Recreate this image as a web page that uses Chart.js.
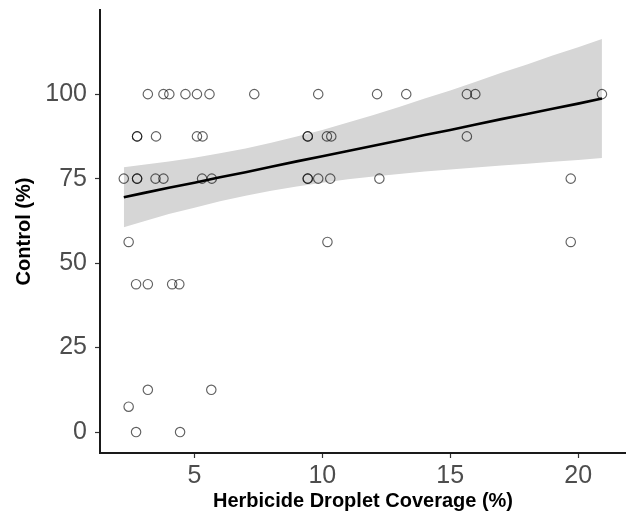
<!DOCTYPE html>
<html>
<head>
<meta charset="utf-8">
<script src="https://cdn.jsdelivr.net/npm/chart.js@4.4.1/dist/chart.umd.min.js"></script>
<style>
    html, body { margin: 0; padding: 0; background: #fff; }
    #wrap { width: 626px; height: 520px; }
</style>
</head>
<body>
<div id="wrap"><canvas id="chart" width="626" height="520"></canvas></div>
<script>
const coverage = [
    3.18, 3.79, 4.02, 4.65, 5.10, 5.59, 7.34, 9.84, 12.14, 13.28, 15.65, 15.98, 20.93,
    2.76, 2.76, 3.50, 5.10, 5.32, 9.43, 9.43, 10.18, 10.35, 15.65,
    2.24, 2.76, 2.76, 3.48, 3.79, 5.30, 5.68, 9.43, 9.43, 9.84, 10.31, 12.23, 19.71,
    2.43, 10.20, 19.71,
    2.72, 3.18, 4.13, 4.41,
    3.18, 5.66,
    2.43,
    2.72, 4.44
];
const control = [
    100, 100, 100, 100, 100, 100, 100, 100, 100, 100, 100, 100, 100,
    87.5, 87.5, 87.5, 87.5, 87.5, 87.5, 87.5, 87.5, 87.5, 87.5,
    75, 75, 75, 75, 75, 75, 75, 75, 75, 75, 75, 75, 75,
    56.25, 56.25, 56.25,
    43.75, 43.75, 43.75, 43.75,
    12.5, 12.5,
    7.5,
    0, 0
];

// Fitted line and its grey band
const fitX = [2.24, 3, 4, 5, 6, 7, 8, 9, 10, 11, 12, 13, 14, 15, 16, 17, 18, 19, 20, 20.93];
const fitY = [69.5, 70.7, 72.3, 73.8, 75.4, 76.9, 78.5, 80.1, 81.6, 83.2, 84.7, 86.3, 87.9, 89.4, 91.0, 92.6, 94.1, 95.7, 97.2, 98.7];
const bandUpper = [78.4, 79.1, 80.1, 81.2, 82.5, 83.9, 85.6, 87.5, 89.4, 91.6, 93.8, 96.2, 98.7, 101.1, 103.7, 106.3, 108.8, 111.4, 113.9, 116.3];
const bandLower = [60.6, 62.3, 64.5, 66.4, 68.3, 69.9, 71.4, 72.7, 73.8, 74.8, 75.6, 76.4, 77.1, 77.7, 78.3, 78.9, 79.4, 80.0, 80.5, 81.1];

const xTicks = [5, 10, 15, 20];
const yTicks = [0, 25, 50, 75, 100];

const toPoints = (xs, ys) => xs.map((x, i) => ({ x: x, y: ys[i] }));

const tickFont = { family: '"Liberation Sans", Arial, sans-serif', size: 25 };
const titleFont = { family: '"Liberation Sans", Arial, sans-serif', size: 20, weight: 'bold' };

new Chart(document.getElementById('chart'), {
    type: 'scatter',
    data: {
        datasets: [
            {
                label: 'points',
                data: toPoints(coverage, control),
                showLine: false,
                pointStyle: 'circle',
                pointRadius: 4.7,
                pointBorderWidth: 1.15,
                pointBorderColor: 'rgba(0, 0, 0, 0.62)',
                pointBackgroundColor: 'rgba(0, 0, 0, 0)',
                order: 0
            },
            {
                label: 'fit',
                data: toPoints(fitX, fitY),
                showLine: true,
                borderColor: '#000',
                borderWidth: 2.6,
                pointRadius: 0,
                fill: false,
                order: 1
            },
            {
                label: 'lower',
                data: toPoints(fitX, bandLower),
                showLine: true,
                borderWidth: 0,
                borderColor: 'rgba(0,0,0,0)',
                pointRadius: 0,
                fill: false,
                order: 3
            },
            {
                label: 'upper',
                data: toPoints(fitX, bandUpper),
                showLine: true,
                borderWidth: 0,
                borderColor: 'rgba(0,0,0,0)',
                backgroundColor: '#d6d6d6',
                pointRadius: 0,
                fill: '-1',
                order: 2
            }
        ]
    },
    options: {
        responsive: false,
        animation: false,
        devicePixelRatio: 1,
        layout: { autoPadding: false, padding: { top: 10, right: 0, left: 0, bottom: 0 } },
        plugins: {
            legend: { display: false },
            tooltip: { enabled: false }
        },
        scales: {
            x: {
                type: 'linear',
                min: 1.31,
                max: 21.87,
                afterBuildTicks: (scale) => { scale.ticks = xTicks.map(v => ({ value: v })); },
                afterFit: (scale) => {
                    scale.height = 67;
                    scale.paddingLeft = 0;
                    scale.paddingRight = 0;
                },
                grid: { drawOnChartArea: false, tickLength: 5, color: '#333', tickWidth: 1.2 },
                border: { color: '#1a1a1a', width: 2 },
                ticks: { color: '#4d4d4d', font: tickFont, padding: 3, maxRotation: 0 },
                title: {
                    display: true,
                    text: 'Herbicide Droplet Coverage (%)',
                    color: '#000',
                    font: titleFont,
                    padding: { top: 2, bottom: 7 }
                }
            },
            y: {
                type: 'linear',
                min: -6.2,
                max: 124.9,
                afterBuildTicks: (scale) => { scale.ticks = yTicks.map(v => ({ value: v })); },
                afterFit: (scale) => {
                    scale.width = 100;
                    scale.paddingTop = 0;
                    scale.paddingBottom = 0;
                },
                grid: { drawOnChartArea: false, tickLength: 5, color: '#333', tickWidth: 1.2 },
                border: { color: '#1a1a1a', width: 2 },
                ticks: { color: '#4d4d4d', font: tickFont, padding: 8 },
                title: {
                    display: true,
                    text: 'Control (%)',
                    color: '#000',
                    font: titleFont,
                    padding: { top: 12, bottom: 0 }
                }
            }
        }
    }
});
</script>
</body>
</html>
